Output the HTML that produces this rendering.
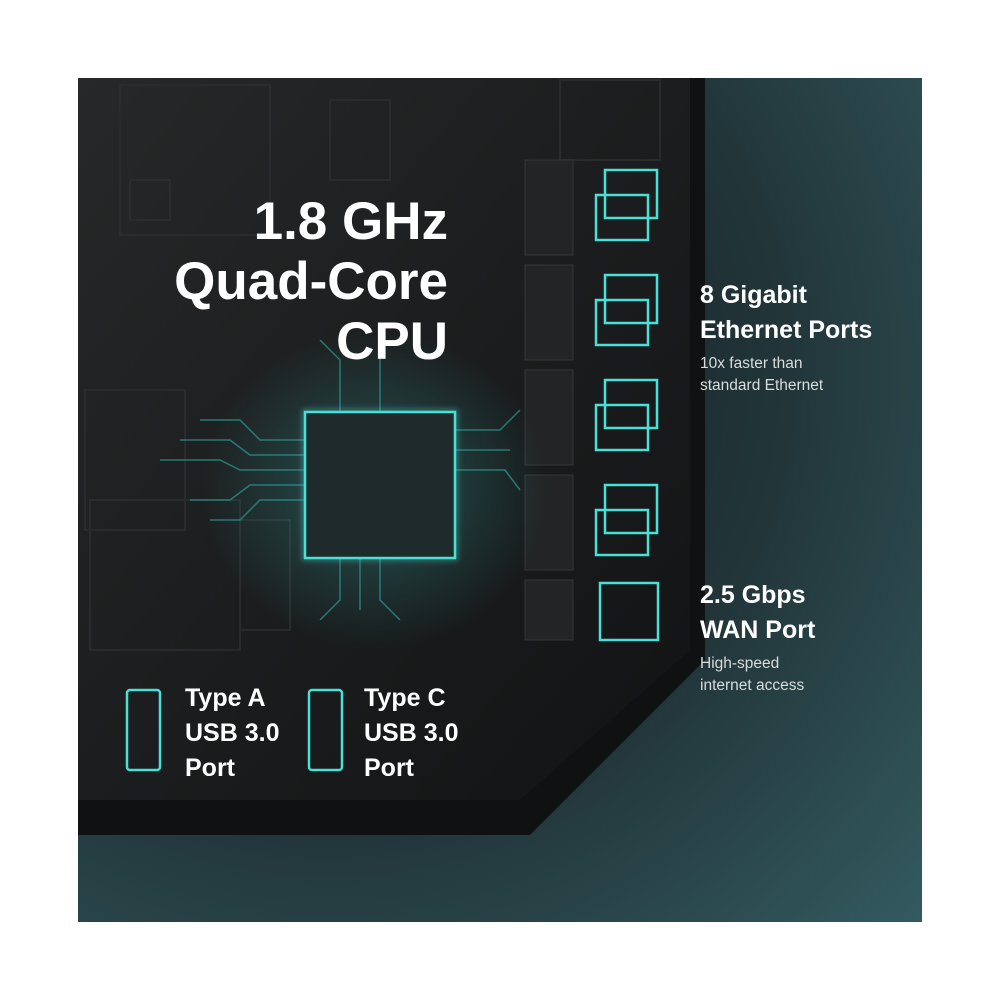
<!DOCTYPE html>
<html><head><meta charset="utf-8"><style>
html,body{margin:0;padding:0;background:#fff;}
#w{position:relative;width:1000px;height:1000px;overflow:hidden;background:#fff;font-family:"Liberation Sans",sans-serif;}
.t{position:absolute;color:#fff;font-weight:bold;white-space:nowrap;}
.s{position:absolute;color:#d8dcdc;font-size:15.5px;white-space:nowrap;}
</style></head><body><div id="w">
<svg width="1000" height="1000" style="position:absolute;left:0;top:0">
<defs>
<radialGradient id="bg" cx="0.3" cy="0.35" r="0.95">
<stop offset="0" stop-color="#121a1c"/><stop offset="0.55" stop-color="#213438"/><stop offset="1" stop-color="#335a5f"/>
</radialGradient>
<radialGradient id="glow" cx="0.5" cy="0.5" r="0.5">
<stop offset="0" stop-color="#3fd6d0" stop-opacity="0.3"/><stop offset="1" stop-color="#3fd6d0" stop-opacity="0"/>
</radialGradient>
<linearGradient id="bd" x1="0" y1="0" x2="1" y2="1">
<stop offset="0" stop-color="#262829"/><stop offset="0.5" stop-color="#1b1d1e"/><stop offset="1" stop-color="#121314"/>
</linearGradient>
<filter id="f"><feGaussianBlur stdDeviation="3"/></filter>
</defs>
<rect x="78" y="78" width="844" height="844" fill="url(#bg)"/>
<polygon points="78,78 705,78 705,660 530,835 78,835" fill="#0f1112"/>
<polygon points="78,78 690,78 690,650 520,800 78,800" fill="url(#bd)"/>
<g stroke="#2c2f30" stroke-width="2" fill="none" opacity="0.8">
<rect x="120" y="85" width="150" height="150"/><rect x="130" y="180" width="40" height="40"/>
<rect x="85" y="390" width="100" height="140"/><rect x="90" y="500" width="150" height="150"/>
<rect x="330" y="100" width="60" height="80"/><rect x="560" y="80" width="100" height="80"/>
<rect x="240" y="520" width="50" height="110"/>
</g>
<g fill="#222425" stroke="#343738">
<rect x="525" y="160" width="48" height="95"/><rect x="525" y="265" width="48" height="95"/>
<rect x="525" y="370" width="48" height="95"/><rect x="525" y="475" width="48" height="95"/>
<rect x="525" y="580" width="48" height="60"/>
</g>
<rect x="200" y="330" width="350" height="320" fill="url(#glow)"/>
<g stroke="#2a8f8c" stroke-width="1.5" fill="none" opacity="0.8">
<path d="M305,440 L260,440 L240,420 L200,420"/><path d="M305,455 L250,455 L230,440 L180,440"/>
<path d="M305,470 L240,470 L220,460 L160,460"/><path d="M305,485 L250,485 L230,500 L190,500"/>
<path d="M305,500 L260,500 L240,520 L210,520"/><path d="M455,430 L500,430 L520,410"/>
<path d="M455,450 L510,450"/><path d="M455,470 L505,470 L520,490"/>
<path d="M340,558 L340,600 L320,620"/><path d="M360,558 L360,610"/><path d="M380,558 L380,600 L400,620"/>
<path d="M340,412 L340,360 L320,340"/><path d="M380,412 L380,330"/>
</g>
<g stroke="#49e0d8" fill="none">
<rect x="305" y="412" width="150" height="146" stroke-width="6" opacity="0.4" filter="url(#f)"/>
<rect x="305" y="412" width="150" height="146" stroke-width="2.5" fill="#1f2a2b"/>
</g>
<g stroke="#49e0d8" stroke-width="2.5" fill="none">
<rect x="605" y="170" width="52" height="48"/><rect x="596" y="195" width="52" height="45"/>
<rect x="605" y="275" width="52" height="48"/><rect x="596" y="300" width="52" height="45"/>
<rect x="605" y="380" width="52" height="48"/><rect x="596" y="405" width="52" height="45"/>
<rect x="605" y="485" width="52" height="48"/><rect x="596" y="510" width="52" height="45"/>
<rect x="600" y="583" width="58" height="57"/>
<rect x="127" y="690" width="33" height="80" rx="3"/>
<rect x="309" y="690" width="33" height="80" rx="3"/>
</g>
</svg>
<div class="t" style="right:552px;top:192px;font-size:53px;line-height:60px;text-align:right">1.8 GHz<br>Quad-Core<br>CPU</div>
<div class="t" style="left:700px;top:278px;font-size:25px;line-height:35px">8 Gigabit<br>Ethernet Ports</div>
<div class="s" style="left:700px;top:353px;line-height:22px">10x faster than<br>standard Ethernet</div>
<div class="t" style="left:700px;top:578px;font-size:25px;line-height:35px">2.5 Gbps<br>WAN Port</div>
<div class="s" style="left:700px;top:653px;line-height:22px">High-speed<br>internet access</div>
<div class="t" style="left:185px;top:681px;font-size:25px;line-height:35px">Type A<br>USB 3.0<br>Port</div>
<div class="t" style="left:364px;top:681px;font-size:25px;line-height:35px">Type C<br>USB 3.0<br>Port</div>
</div></body></html>
